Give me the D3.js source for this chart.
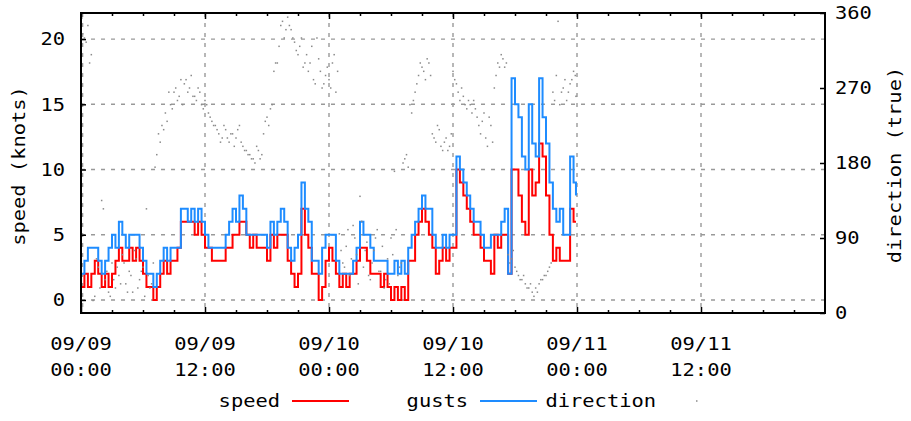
<!DOCTYPE html>
<html>
<head>
<meta charset="utf-8">
<script src="https://cdn.jsdelivr.net/npm/d3@7"></script>
<style>
  html, body { margin: 0; padding: 0; background: #fff; }
  svg { display: block; }
  text { font-family: "DejaVu Sans Mono", monospace; font-size: 17px; fill: #000; }
</style>
</head>
<body>
<div id="chart"></div>
<script>
// ---- data (sampled every 20 minutes from 09/09 00:00) ----
const sampleMinutes = 20;

const gusts = [
  2,3,4, 4,4,3, 2,3,4, 5,4,6, 5,4,5, 5,5,4, 3,2,2, 1,2,3, 4,3,4, 4,4,7, 7,6,7, 6,7,6,
  5,4,4, 4,4,4, 5,6,7, 6,8,7, 5,5,5, 5,5,5, 4,6,5, 6,7,6, 4,3,4, 5,9,7, 6,3,3, 2,4,5,
  5,5,3, 2,2,2, 2,3,4, 6,5,5, 4,3,3, 3,3,2, 2,3,2, 3,2,4, 5,6,7, 8,7,7, 5,4,4, 5,4,5,
  5,11,10, 9,8,7, 6,6,5, 4,4,5, 5,5,6, 7,2,17, 15,14,11, 10,15,12, 11,17,14, 12,9,7, 6,7,5, 5,11,9,
  8
];

const speed = [
  1,2,1, 2,3,2, 1,2,1, 2,3,4, 3,3,4, 3,4,3, 2,1,1, 0,1,2, 3,2,3, 3,4,6, 6,6,6, 5,6,5,
  4,4,3, 3,3,3, 4,4,5, 5,6,6, 5,4,5, 4,4,4, 3,5,4, 5,5,5, 3,2,1, 2,7,5, 4,2,2, 0,1,3,
  4,3,2, 1,2,1, 2,2,3, 4,4,3, 2,2,2, 1,2,1, 0,1,0, 1,0,3, 3,5,6, 7,6,5, 4,2,3, 4,3,4,
  4,10,9, 8,7,6, 5,5,4, 3,3,2, 5,4,5, 5,2,10, 10,8,6, 5,10,8, 9,12,11, 8,5,3, 4,3,3, 3,7,6,
  6
];

// direction on the 20-minute samples
const direction = [
  340,330,345, 310,20,55, 135,40,25, 60,30,45, 70,35,50, 25,65,40, 55,125,30, 60,190,205,
  220,230,250, 265,255,280, 275,265,285, 260,270,250,
  255,240,230, 225,215,210, 220,205,215, 210,225,200, 195,190,185, 200,185,215,
  235,245,290, 300,345,330, 355,340,325, 310,330,300, 290,320,275, 305,270,285,
  280,300,265, 95,60,80, 45,105,70, 140,55,85, 40,75,100, 50,30,65,
  90,170,45, 60,185,175, 240,265,285, 295,280,300, 215,205,220, 195,210,200,
  290,275,255, 260,245,250, 255,235,215, 240,200,225, 270,300,310, 295,70,65,
  55,45,40, 35,30,25, 30,35,40, 45,55,265, 285,250,270, 255,275,290,
  260
];

// direction on the in-between samples (10 minutes after each 20-minute sample)
const directionMid = [
  335,325,300, 15,65,30, 125,50,20, 40,55,35, 60,25,45, 75,30,50, 20,45,35, 175,215,225,
  240,265,245, 270,260,250, 280,270,260, 255,265,245,
  250,235,225, 220,205,225, 210,215,200, 220,205,195, 190,185,180, 195,190,230,
  225,250,300, 320,350,340, 345,330,315, 320,295,310, 300,280,330, 290,275,295,
  270,310,290, 75,55,100, 65,90,35, 110,75,45, 60,90,50, 80,40,35,
  70,100,55, 180,190,250, 255,275,300, 290,305,285, 210,225,200, 205,195,215,
  280,265,270, 250,255,240, 245,225,230, 210,235,205, 285,295,305, 300,60,75,
  50,40,45, 30,35,20, 25,40,45, 50,60,255, 350,265,280, 265,280,285
];

const speedTicks = [0, 5, 10, 15, 20];
const speedTickLabels = ["0", "5", "10", "15", "20"];
const dirTicks = [0, 90, 180, 270, 360];
const dirTickLabels = ["0", "90", "180", "270", "360"];
const majorHours = [0, 12, 24, 36, 48, 60];
const xLabelDate = ["09/09", "09/09", "09/10", "09/10", "09/11", "09/11"];
const xLabelTime = ["00:00", "12:00", "00:00", "12:00", "00:00", "12:00"];
const minorHours = [3, 6, 9, 15, 18, 21, 27, 30, 33, 39, 42, 45, 51, 54, 57, 63, 66, 69];
const legendNames = ["speed", "gusts", "direction"];

// ---- layout ----
const W = 911, H = 421;
const L = 81, R = 825, T = 13, B = 313;
const FONT_SX = 1.2;
const RED = "#ff0000", BLUE = "#1e8cff", DOT = "#8a8a8a";

const svg = d3.select("#chart").append("svg").attr("width", W).attr("height", H);

const x = d3.scaleLinear().domain([0, 72]).range([L, R]);
const y = d3.scaleLinear().domain([-1, 22]).range([B, T]);
const y2 = d3.scaleLinear().domain([0, 360]).range([B, T]);

const hourOf = i => i * sampleMinutes / 60;
const last = speed.length - 1;
const hourAt = i => (i === last ? 47.9 : hourOf(i));
const hourMid = i => hourOf(i) + sampleMinutes / 120;

function label(px, py, str, anchor, rot) {
  return svg.append("text")
    .attr("transform", `translate(${px},${py})` + (rot ? ` rotate(${rot})` : "") + ` scale(${FONT_SX},1)`)
    .attr("text-anchor", anchor)
    .text(str);
}

// grid
const grid = svg.append("g").attr("stroke", "#999").attr("stroke-width", 1.4)
  .attr("stroke-dasharray", "4,6").attr("fill", "none");
grid.selectAll("line.h").data(speedTicks).join("line")
  .attr("x1", L).attr("x2", R).attr("y1", d => y(d)).attr("y2", d => y(d));
grid.selectAll("line.v").data(majorHours).join("line")
  .attr("x1", d => d === 0 ? x(d) + 1.6 : x(d)).attr("x2", d => d === 0 ? x(d) + 1.6 : x(d))
  .attr("y1", T).attr("y2", B);

// series
const stepLine = (arr) => d3.line()
  .x((d, i) => x(hourAt(i)))
  .y(d => y(d))
  .curve(d3.curveStepAfter)(arr);

svg.append("path").attr("d", stepLine(speed)).attr("fill", "none")
  .attr("stroke", RED).attr("stroke-width", 2);
svg.append("path").attr("d", stepLine(gusts)).attr("fill", "none")
  .attr("stroke", BLUE).attr("stroke-width", 2);

const dots = svg.append("g").attr("fill", DOT);
dots.selectAll("rect.a").data(direction).join("rect")
  .attr("x", (d, i) => x(hourAt(i)) - 0.75)
  .attr("y", d => y2(d) - 0.75)
  .attr("width", 1.5).attr("height", 1.5);
dots.selectAll("rect.b").data(directionMid).join("rect")
  .attr("x", (d, i) => x(hourMid(i)) - 0.75)
  .attr("y", d => y2(d) - 0.75)
  .attr("width", 1.5).attr("height", 1.5);

// axes (inward ticks)
function styleAxis(g) {
  g.select(".domain").remove();
  g.selectAll(".tick line").attr("stroke", "#000").attr("stroke-width", 1.5);
  g.selectAll(".tick text").remove();
}
svg.append("g").attr("transform", `translate(0,${B})`)
  .call(d3.axisBottom(x).tickValues(majorHours).tickSize(-6).tickFormat("")).call(styleAxis);
svg.append("g").attr("transform", `translate(0,${B})`)
  .call(d3.axisBottom(x).tickValues(minorHours).tickSize(-3).tickFormat("")).call(styleAxis);
svg.append("g").attr("transform", `translate(0,${T})`)
  .call(d3.axisTop(x).tickValues(majorHours).tickSize(-6).tickFormat("")).call(styleAxis);
svg.append("g").attr("transform", `translate(0,${T})`)
  .call(d3.axisTop(x).tickValues(minorHours).tickSize(-3).tickFormat("")).call(styleAxis);
svg.append("g").attr("transform", `translate(${L},0)`)
  .call(d3.axisLeft(y).tickValues(speedTicks).tickSize(-5).tickFormat("")).call(styleAxis);
svg.append("g").attr("transform", `translate(${R},0)`)
  .call(d3.axisRight(y2).tickValues(dirTicks).tickSize(-5).tickFormat("")).call(styleAxis);

// border
svg.append("rect").attr("x", L).attr("y", T).attr("width", R - L).attr("height", B - T)
  .attr("fill", "none").attr("stroke", "#000").attr("stroke-width", 2);

// tick labels
speedTicks.forEach((v, i) => label(65, y(v) + 6.2, speedTickLabels[i], "end"));
dirTicks.forEach((v, i) => label(835, y2(v) + 6.2, dirTickLabels[i], "start"));
majorHours.forEach((h, i) => {
  label(x(h), 350, xLabelDate[i], "middle");
  label(x(h), 376, xLabelTime[i], "middle");
});

// axis titles
label(25, 166, "speed (knots)", "middle", -90);
label(901, 165, "direction (true)", "middle", -90);

// legend
const legendEnds = [280, 468, 656];
const legendBase = 407, legendLineY = 401;
legendNames.forEach((n, i) => label(legendEnds[i], legendBase, n, "end"));
svg.append("line").attr("x1", legendEnds[0] + 12).attr("x2", legendEnds[0] + 69)
  .attr("y1", legendLineY).attr("y2", legendLineY).attr("stroke", RED).attr("stroke-width", 2);
svg.append("line").attr("x1", legendEnds[1] + 12).attr("x2", legendEnds[1] + 69)
  .attr("y1", legendLineY).attr("y2", legendLineY).attr("stroke", BLUE).attr("stroke-width", 2);
svg.append("rect").attr("x", legendEnds[2] + 40).attr("y", legendLineY - 0.75)
  .attr("width", 1.5).attr("height", 1.5).attr("fill", DOT);
</script>
</body>
</html>
